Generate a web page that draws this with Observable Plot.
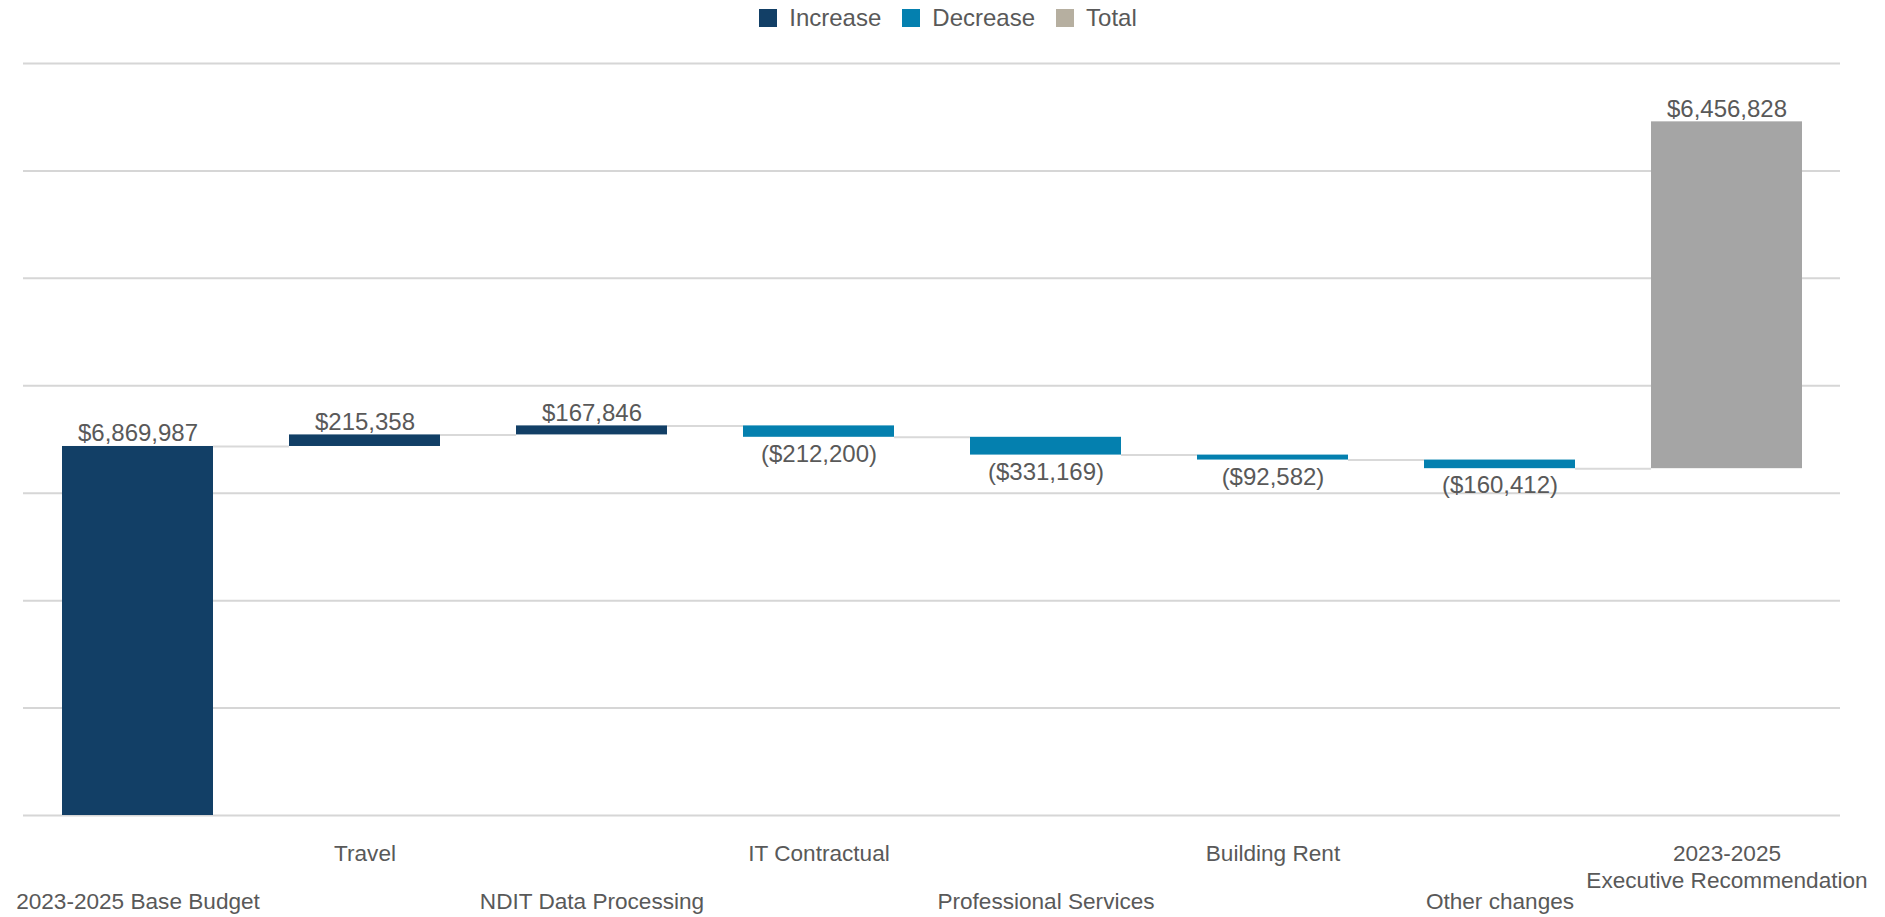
<!DOCTYPE html>
<html><head><meta charset="utf-8">
<script src="https://cdn.jsdelivr.net/npm/d3@7"></script>
<script src="https://cdn.jsdelivr.net/npm/@observablehq/plot@0.6"></script>
<style>
body{margin:0;background:#fff;font-family:"Liberation Sans",Arial,sans-serif;}
#legend{height:36px;display:flex;justify-content:center;align-items:center;gap:21px;padding-left:11px;font-size:24px;color:#595959;box-sizing:border-box;}
.item{display:flex;align-items:center;}
.sw{width:18px;height:18px;margin-right:12px;}
#chart svg{display:block;}
</style></head><body>
<div id="legend"></div><div id="chart"></div>
<script>
const categories = ["2023-2025 Base Budget","Travel","NDIT Data Processing","IT Contractual","Professional Services","Building Rent","Other changes","2023-2025\nExecutive Recommendation"];
const values = [6869987, 215358, 167846, -212200, -331169, -92582, -160412, 6456828];
const kinds = ["Increase","Increase","Increase","Decrease","Decrease","Decrease","Decrease","Total"];
const kindNames = ["Increase","Decrease","Total"];
const legendColors = ["#123F66","#0480AF","#B6AFA0"];
const barColors = ["#123F66","#0480AF","#A5A5A5"];
const gridTicks = [0, 2000000, 4000000, 6000000, 8000000, 10000000, 12000000, 14000000];

// legend
const leg = document.getElementById("legend");
kindNames.forEach((k, i) => {
  const it = document.createElement("div"); it.className = "item";
  const sw = document.createElement("div"); sw.className = "sw"; sw.style.background = legendColors[i];
  const tx = document.createElement("span"); tx.textContent = k;
  it.appendChild(sw); it.appendChild(tx); leg.appendChild(it);
});

// waterfall table
const fmt = d3.format(",");
let cum = 0;
const rows = categories.map((c, i) => {
  const v = values[i];
  const y1 = cum, y2 = cum + v;
  if (kinds[i] !== "Total") cum = y2;
  return {cat: c, kind: kinds[i], y1, y2, end: y2, top: Math.max(y1, y2), bottom: Math.min(y1, y2),
          neg: v < 0, label: v < 0 ? "($" + fmt(-v) + ")" : "$" + fmt(v), idx: i};
});
const connectors = rows.slice(0, -1).map((r, i) => ({from: r.cat, to: categories[i + 1], level: r.end}));

const W = 1885, H = 881, mL = 23, mR = 45, mT = 27, mB = 102;
const pInner = 0.335;
const bw = (W - mL - mR) / categories.length * (1 - pInner);

const chart = Plot.plot({
  width: W, height: H,
  marginLeft: mL, marginRight: mR, marginTop: mT, marginBottom: mB,
  style: {fontFamily: '"Liberation Sans", Arial, sans-serif', background: "#fff"},
  x: {type: "band", domain: categories, paddingInner: pInner, paddingOuter: pInner / 2, label: null},
  y: {domain: [0, 14000000], axis: null},
  color: {domain: kindNames, range: barColors},
  marks: [
    Plot.gridY(gridTicks, {stroke: "#d6d6d6", strokeOpacity: 1, strokeWidth: 2}),
    Plot.ruleY(connectors, {x1: "from", x2: "to", y: "level", insetLeft: bw, insetRight: bw, stroke: "#d9d9d9", strokeWidth: 2}),
    Plot.barY(rows, {x: "cat", y1: "y1", y2: "y2", fill: "kind"}),
    Plot.text(rows.filter(d => !d.neg), {x: "cat", y: "top", text: "label", lineAnchor: "bottom", dy: -5, fontSize: 24, fill: "#595959"}),
    Plot.text(rows.filter(d => d.neg), {x: "cat", y: "bottom", text: "label", lineAnchor: "top", dy: 7.5, fontSize: 24, fill: "#595959"}),
    Plot.axisX({ticks: categories.filter((c, i) => i % 2 === 1), tickSize: 0, tickPadding: 25.5, fontSize: 22.6, color: "#595959", lineHeight: 1.22, label: null}),
    Plot.axisX({ticks: categories.filter((c, i) => i % 2 === 0), tickSize: 0, tickPadding: 77.5, fontSize: 22.6, color: "#595959", label: null})
  ]
});
document.getElementById("chart").appendChild(chart);
</script>
</body></html>
